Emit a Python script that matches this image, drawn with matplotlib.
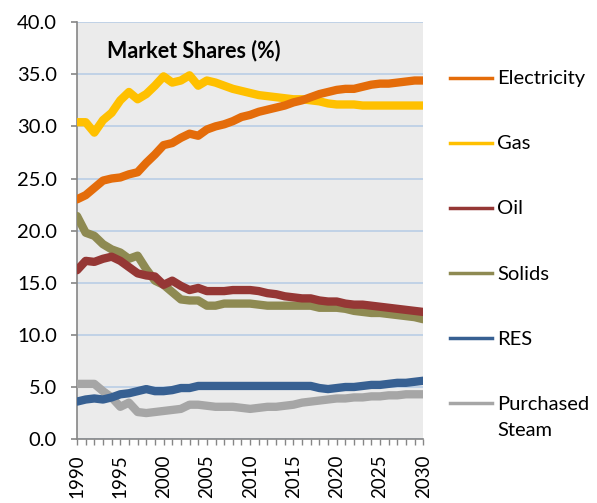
import numpy as np
import matplotlib
matplotlib.use("Agg")
import matplotlib.pyplot as plt
from matplotlib.lines import Line2D

plt.rcParams["font.family"] = ["Lato", "DejaVu Sans"]

# --- data ---
years = list(range(1990, 2031))

electricity = [23.0, 23.4, 24.1, 24.8, 25.0, 25.1, 25.4, 25.6, 26.5, 27.3,
               28.2, 28.4, 28.9, 29.3, 29.1, 29.7, 30.0, 30.2, 30.5, 30.9,
               31.1, 31.4, 31.6, 31.8, 32.0, 32.3, 32.5, 32.8, 33.1, 33.3,
               33.5, 33.6, 33.6, 33.8, 34.0, 34.1, 34.1, 34.2, 34.3, 34.4, 34.4]
gas = [30.4, 30.4, 29.4, 30.6, 31.3, 32.5, 33.3, 32.6, 33.1, 33.9,
       34.8, 34.2, 34.4, 34.9, 33.9, 34.4, 34.2, 33.9, 33.6, 33.4,
       33.2, 33.0, 32.9, 32.8, 32.7, 32.6, 32.6, 32.5, 32.4, 32.2,
       32.1, 32.1, 32.1, 32.0, 32.0, 32.0, 32.0, 32.0, 32.0, 32.0, 32.0]
oil = [16.2, 17.1, 17.0, 17.3, 17.5, 17.1, 16.5, 15.9, 15.7, 15.6,
       14.8, 15.2, 14.7, 14.3, 14.5, 14.2, 14.2, 14.2, 14.3, 14.3,
       14.3, 14.2, 14.0, 13.9, 13.7, 13.6, 13.5, 13.5, 13.3, 13.2,
       13.2, 13.0, 12.9, 12.9, 12.8, 12.7, 12.6, 12.5, 12.4, 12.3, 12.2]
solids = [21.4, 19.8, 19.5, 18.7, 18.2, 17.9, 17.3, 17.6, 16.3, 15.2,
          14.8, 14.1, 13.4, 13.3, 13.3, 12.8, 12.8, 13.0, 13.0, 13.0,
          13.0, 12.9, 12.8, 12.8, 12.8, 12.8, 12.8, 12.8, 12.6, 12.6,
          12.6, 12.5, 12.3, 12.2, 12.1, 12.1, 12.0, 11.9, 11.8, 11.7, 11.5]
res = [3.6, 3.8, 3.9, 3.8, 4.0, 4.3, 4.4, 4.6, 4.8, 4.6,
       4.6, 4.7, 4.9, 4.9, 5.1, 5.1, 5.1, 5.1, 5.1, 5.1,
       5.1, 5.1, 5.1, 5.1, 5.1, 5.1, 5.1, 5.1, 4.9, 4.8,
       4.9, 5.0, 5.0, 5.1, 5.2, 5.2, 5.3, 5.4, 5.4, 5.5, 5.6]
steam = [5.3, 5.3, 5.3, 4.6, 4.0, 3.1, 3.5, 2.6, 2.5, 2.6,
         2.7, 2.8, 2.9, 3.3, 3.3, 3.2, 3.1, 3.1, 3.1, 3.0,
         2.9, 3.0, 3.1, 3.1, 3.2, 3.3, 3.5, 3.6, 3.7, 3.8,
         3.9, 3.9, 4.0, 4.0, 4.1, 4.1, 4.2, 4.2, 4.3, 4.3, 4.3]

labels = ["Electricity", "Gas", "Oil", "Solids", "RES", "Purchased\nSteam"]
series = [electricity, gas, oil, solids, res, steam]
colors = ["#E46C0A", "#FFC000", "#953735", "#8E8A52", "#376092", "#A6A6A6"]

# --- plot ---
fig = plt.figure(figsize=(5.97, 5.03), dpi=100)
ax = fig.add_axes([0.129, 0.127, 0.580, 0.829])
ax.set_facecolor("#EBEBEB")

# draw order: later series in the legend sit underneath
for vals, col in zip(series[::-1], colors[::-1]):
    ax.plot(years, vals, color=col, linewidth=6,
            solid_capstyle="round", solid_joinstyle="round", zorder=3)

ax.set_xlim(1990, 2030)
ax.set_ylim(0, 40)
ax.set_yticks(np.arange(0, 41, 5))
ax.set_yticklabels([f"{v:.1f}" for v in np.arange(0, 41, 5)], fontsize=14.5)
ax.set_xticks(range(1990, 2031, 5))
ax.set_xticklabels([str(y) for y in range(1990, 2031, 5)], rotation=90, fontsize=13.5)
ax.set_xticks(years, minor=True)

ax.grid(axis="y", color="#B9CDE5", linewidth=1.2, zorder=1)
ax.set_axisbelow(True)
for side in ["top", "right"]:
    ax.spines[side].set_visible(False)
for side in ["left", "bottom"]:
    ax.spines[side].set_color("#868686")
    ax.spines[side].set_linewidth(1.2)
ax.tick_params(axis="y", length=4.5, width=1.2, color="#868686", pad=10)
ax.tick_params(axis="x", which="both", length=4, width=1, color="#868686", pad=7)

ax.text(0.087, 0.931, "Market Shares (%)", transform=ax.transAxes,
        fontsize=15.5, fontweight="bold", va="center", ha="left")

# legend drawn beside the axes
for i, (lab, col) in enumerate(zip(labels, colors)):
    y = 0.866 - i * 0.156
    ax.add_line(Line2D([1.078, 1.199], [y, y], transform=ax.transAxes,
                       color=col, linewidth=2.5, clip_on=False))
    ax.annotate(lab, xy=(1.214, y), xycoords="axes fraction", xytext=(0, 5.5),
                textcoords="offset points", fontsize=14.5, va="top", ha="left",
                linespacing=1.7)

fig.savefig("out.png", dpi=100)
